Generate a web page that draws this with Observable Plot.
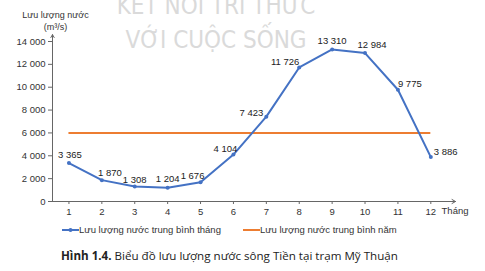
<!DOCTYPE html>
<html><head><meta charset="utf-8">
<script src="https://cdn.jsdelivr.net/npm/d3@7"></script>
<script src="https://cdn.jsdelivr.net/npm/@observablehq/plot@0.6"></script>
<style>
body{margin:0;background:#fff;width:485px;height:271px;overflow:hidden;font-family:"Liberation Sans",Arial,sans-serif;}
#wrap{position:relative;width:485px;height:271px;}
#legend{position:absolute;top:224px;left:62px;font-size:9.5px;color:#333;display:flex;align-items:center;white-space:nowrap;}
#legend .item{display:flex;align-items:center;}
#legend svg{display:block;}
#caption{position:absolute;top:248px;left:61px;font-family:"Open Sans","Noto Sans",sans-serif;font-size:11.6px;color:#222;white-space:nowrap;}
</style></head>
<body><div id="wrap"><div id="chart"></div><div id="legend"></div><div id="caption"></div></div>
<script>
const months = [1,2,3,4,5,6,7,8,9,10,11,12];
const monthlyFlow = [3365,1870,1308,1204,1676,4104,7423,11726,13310,12984,9775,3886];
const annualMean = 6000;
const yTicks = [0,2000,4000,6000,8000,10000,12000,14000];
const yLabel = ["Lưu lượng nước", "(m³/s)"];
const xLabel = "Tháng";
const seriesNames = ["Lưu lượng nước trung bình tháng", "Lưu lượng nước trung bình năm"];
const watermark = ["KẾT NỐI TRI THỨC", "VỚI CUỘC SỐNG"];
const captionBold = "Hình 1.4.";
const captionText = " Biểu đồ lưu lượng nước sông Tiền tại trạm Mỹ Thuận";

const blue = "#4472c4", orange = "#ed7d31", axisColor = "#666";
const fmt = d3.formatLocale({thousands: " ", grouping: [3], decimal: ","}).format(",d");

const data = months.map((m, i) => ({m, v: monthlyFlow[i], i}));
// label nudges (pixels) for readability, as placed in the reference
const nudge = [[1,-8,"middle"],[8,-7,"middle"],[0,-7,"middle"],[0,-9,"middle"],[-8,-6,"middle"],[-8,-6,"middle"],
               [-3,-4,"end"],[0,-6,"end"],[0,-8,"middle"],[7,-8,"middle"],[0,-6,"start"],[3,-5,"start"]];
function offsetText(a) {
  return data.filter(d => nudge[d.i][2] === a).map(d => Plot.text([d], {x: "m", y: "v", text: d => fmt(d.v), textAnchor: a,
    dx: nudge[d.i][0], dy: nudge[d.i][1], fontSize: 9.5, fill: "#222"}));
}

const plot = Plot.plot({
  width: 485, height: 218,
  marginLeft: 52, marginRight: 30, marginTop: 41, marginBottom: 17,
  style: {fontFamily: "Liberation Sans, Arial, sans-serif", fontSize: "9.5px", color: "#333", background: "transparent"},
  x: {domain: [0.5, 12.75], axis: null},
  y: {domain: [0, 14000], axis: null},
  marks: [
    Plot.text([watermark[0]], {frameAnchor: "top", dx: -38, dy: -28, text: d => d, fontSize: 24, fill: "#dadada",
      fontFamily: "DejaVu Sans Condensed, sans-serif", lineAnchor: "bottom", letterSpacing: 5}),
    Plot.text([watermark[1]], {frameAnchor: "top", dx: -38, dy: 6, text: d => d, fontSize: 24, fill: "#dadada",
      fontFamily: "DejaVu Sans Condensed, sans-serif", lineAnchor: "bottom", letterSpacing: 5}),
    Plot.axisY({ticks: yTicks, tickFormat: fmt, tickSize: 4, tickPadding: 3, stroke: axisColor, fill: "#333", label: null, fontSize: 9.5}),
    Plot.axisX({ticks: months, tickSize: 3, tickPadding: 4, stroke: axisColor, fill: "#333", label: null, fontSize: 9.5}),
    Plot.arrow([0], {x1: 0.5, x2: 12.75, y1: 0, y2: 0, stroke: axisColor, strokeWidth: 1, headLength: 6}),
    Plot.arrow([0], {x1: 0.5, x2: 0.5, y1: 0, y2: 14600, stroke: axisColor, strokeWidth: 1, headLength: 5}),
    Plot.text([xLabel], {frameAnchor: "bottom-right", text: d => d, dx: 13, dy: 12.5, fontSize: 9.5, fill: "#333", textAnchor: "end"}),
    Plot.text([yLabel.join("\n")], {frameAnchor: "top-left", text: d => d, dx: 3, dy: -21, fontSize: 9, fill: "#333", lineHeight: 1.3, textAnchor: "middle", lineAnchor: "middle"}),
    Plot.ruleY([annualMean], {x1: 1, x2: 12, stroke: orange, strokeWidth: 2}),
    Plot.line(data, {x: "m", y: "v", stroke: blue, strokeWidth: 2}),
    Plot.dot(data, {x: "m", y: "v", r: 2, fill: blue}),
    ...offsetText("start"), ...offsetText("middle"), ...offsetText("end")
  ]
});
document.getElementById("chart").appendChild(plot);

const legend = document.getElementById("legend");
[[blue, true], [orange, false]].forEach(([c, dot], i) => {
  const item = document.createElement("div");
  item.className = "item";
  item.style.marginRight = i === 0 ? "22px" : "0";
  item.innerHTML = `<svg width="17" height="8"><line x1="0" x2="17" y1="4" y2="4" stroke="${c}" stroke-width="2"/>${dot ? `<circle cx="8.5" cy="4" r="2" fill="${c}"/>` : ""}</svg><span>${seriesNames[i]}</span>`;
  legend.appendChild(item);
});
document.getElementById("caption").innerHTML = `<b>${captionBold}</b>${captionText}`;
</script></body></html>
